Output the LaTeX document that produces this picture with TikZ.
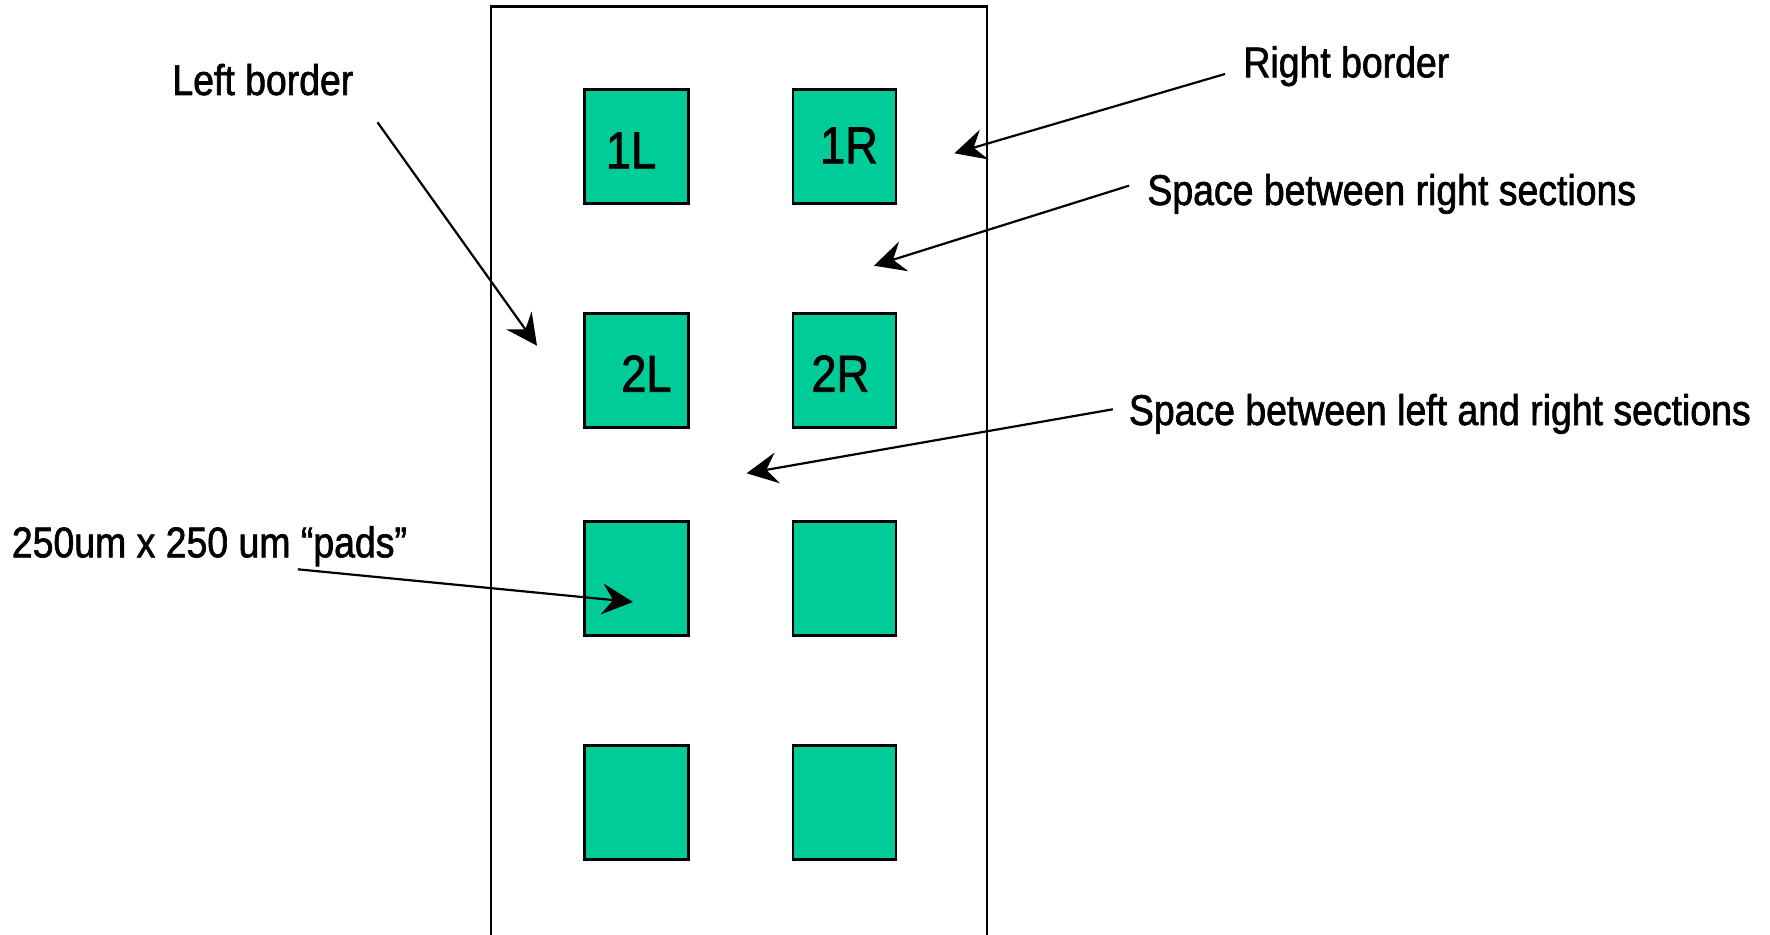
\documentclass[tikz,border=0pt]{standalone}
\usepackage{fontspec}
\setmainfont{Liberation Sans}[FakeStretch=0.87,FakeBold=1.5]
\usetikzlibrary{arrows.meta}
\definecolor{padgreen}{RGB}{0,204,153}
\begin{document}
\begin{tikzpicture}[x=0.5pt,y=-0.5pt,
  padbox/.style={draw=black,line width=1.25pt,fill=padgreen},
  padlabel/.style={anchor=base,inner sep=0pt,font=\fontsize{26pt}{30pt}\selectfont},
  annot/.style={anchor=base west,inner sep=0pt,font=\fontsize{21.5pt}{25pt}\selectfont},
  pointer/.style={line width=1.1pt,-{Stealth[length=15.5pt,width=15.5pt,inset=5.5pt]}},
  border/.style={line width=1.1pt}]
\useasboundingbox[fill=white] (0,0) rectangle (1770,935);
% outer strip
\draw[border] (491.3,940) -- (491.3,6.5) -- (987,6.5) -- (987,940);
% pads
\foreach \r/\y in {1/89.3,2/313.3,3/521.7,4/745.7}{
  \draw[padbox] (584.3,\y) rectangle (688.4,\y+114) node[pos=0.5,inner sep=0pt] (p\r L) {};
  \draw[padbox] (792.9,\y) rectangle (896.2,\y+114) node[pos=0.5,inner sep=0pt] (p\r R) {};
}
% pad labels
\node[padlabel] (l1L) at (631,168.3) {1L};
\node[padlabel] (l1R) at (849,163.3) {1R};
\node[padlabel] (l2L) at (646.4,391.7) {2L};
\node[padlabel] (l2R) at (840.3,391.7) {2R};
% annotations
\node[annot] (tLeft) at (172,95) {Left border};
\node[annot] (tRight) at (1243,77.3) {Right border};
\node[annot] (tSpR) at (1147,205) {Space between right sections};
\node[annot] (tSpLR) at (1128.5,425) {Space between left and right sections};
\node[annot] (tPads) at (11.5,557.3) {250um x 250 um “pads”};
% arrow coordinates
\coordinate (aLs) at (377.5,122.3);
\coordinate (aLe) at (537,345.7);
\coordinate (aRs) at (1225,74);
\coordinate (aRe) at (954.4,153.3);
\coordinate (aSRs) at (1129,185.7);
\coordinate (aSRe) at (874,265.7);
\coordinate (aSLRs) at (1112.8,409.3);
\coordinate (aSLRe) at (746.6,473.3);
\coordinate (aPs) at (297.8,569.3);
\coordinate (aPe) at (633,602);
\draw[pointer] (aLs) -- (aLe);
\draw[pointer] (aRs) -- (aRe);
\draw[pointer] (aSRs) -- (aSRe);
\draw[pointer] (aSLRs) -- (aSLRe);
\draw[pointer] (aPs) -- (aPe);
\end{tikzpicture}
\end{document}
